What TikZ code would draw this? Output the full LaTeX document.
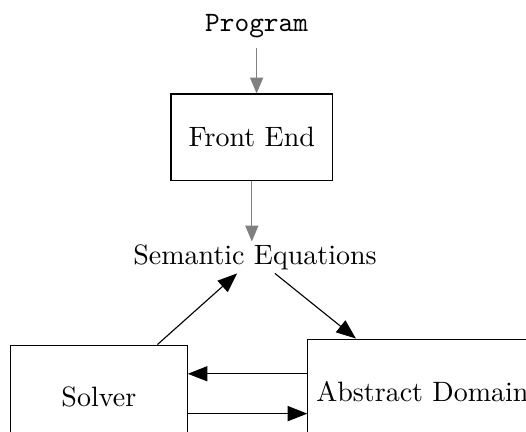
\documentclass[tikz,border=0pt]{standalone}
\usepackage{tikz}
\usetikzlibrary{arrows.meta,positioning,calc}

\begin{document}
\begin{tikzpicture}[
  box/.style={draw,thin,align=center,inner sep=3pt},
  arr/.style={-{Triangle[length=7pt,width=5.4pt]},thin},
  grayarr/.style={-{Triangle[length=5.7pt,width=4.7pt]},gray,thin},
]
\useasboundingbox (0,0) rectangle (6.6,-5.42);

%% ── Input side ──────────────────────────────────────────────
\node[font=\ttfamily] (prog) at (3.22,-0.33) {Program};
\node[box,minimum width=2.03cm,minimum height=1.08cm] (fe) at (3.16,-1.72) {Front End};
\node[inner sep=1pt] (sem) at (3.20,-3.23) {Semantic Equations};
\draw[grayarr] (prog.south) -- (prog.south |- fe.north);
\draw[grayarr] (fe.south) -- (fe.south |- sem.north);

%% ── Solver / domain loop ────────────────────────────────────
\node[box,minimum width=2.22cm,minimum height=1.30cm] (solver) at (1.24,-4.98) {Solver};
\node[box,minimum width=2.80cm,minimum height=1.33cm] (absdom) at (5.30,-4.92) {Abstract Domain};
\draw[arr] (solver) -- (sem);
\draw[arr] (sem) -- (absdom);

\coordinate (upl) at ($(absdom.west)+(0,0.23)$);
\coordinate (lowl) at ($(solver.east)+(0,-0.21)$);
\draw[arr] (upl) -- (upl -| solver.east);
\draw[arr] (lowl) -- (lowl -| absdom.west);

\end{tikzpicture}
\end{document}
